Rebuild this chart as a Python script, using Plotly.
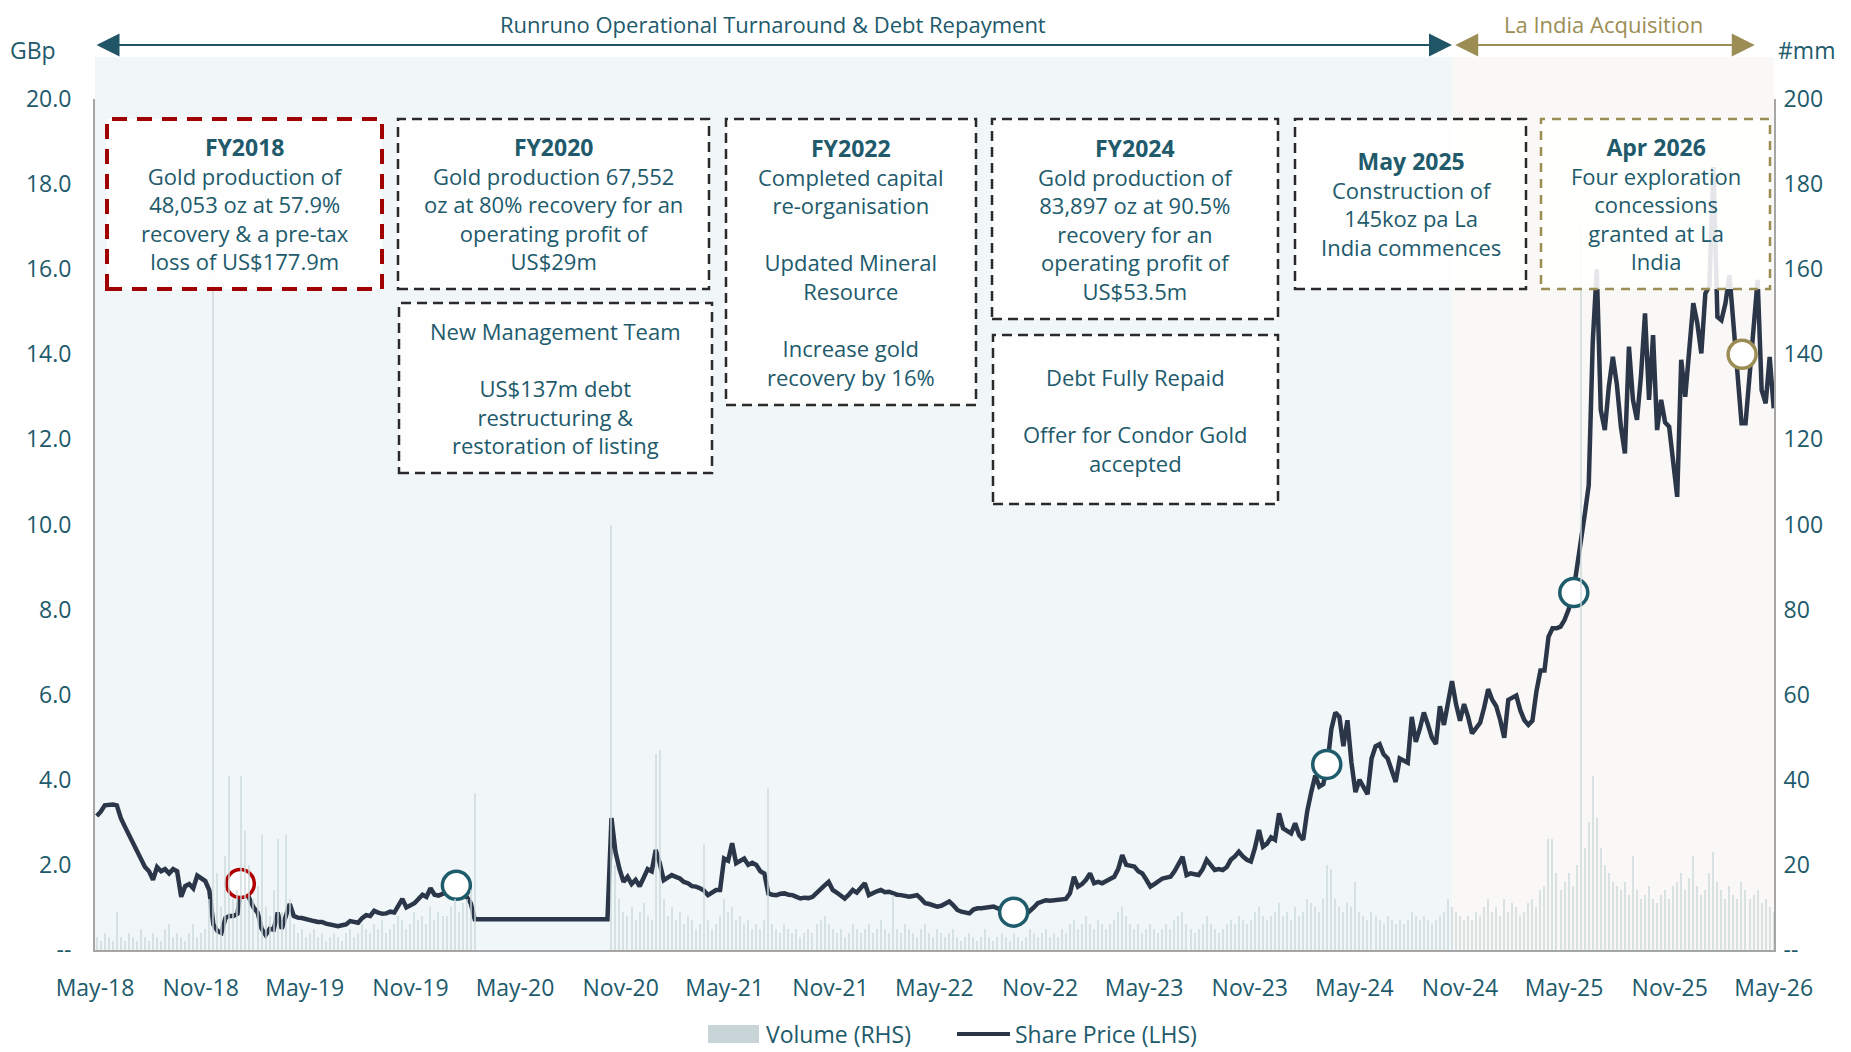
import pandas as pd
import plotly.graph_objects as go

# weekly share price (GBp), one list per calendar year
price_2018 = [3.15, 3.25, 3.4, 3.42, 3.42, 3.4, 3.1, 2.9, 2.7, 2.55,
              2.35, 2.1, 1.95, 1.85, 1.65, 1.95, 1.85, 1.9, 1.8, 1.9,
              1.85, 1.25, 1.5, 1.55, 1.45, 1.75, 1.68, 1.62, 1.4, 0.6,
              0.45, 0.4, 0.75, 0.8, 0.8]
price_2019 = [0.85, 1.55, 1.45, 1.2, 1.0, 0.88, 0.5, 0.35, 0.5, 0.48,
              0.88, 0.5, 0.8, 1.08, 0.8, 0.76, 0.75, 0.72, 0.7, 0.68,
              0.66, 0.66, 0.62, 0.6, 0.58, 0.56, 0.58, 0.6, 0.68, 0.66,
              0.64, 0.75, 0.82, 0.8, 0.92, 0.88, 0.85, 0.86, 0.9, 0.88,
              1.05, 1.2, 1.0, 1.05, 1.1, 1.2, 1.3, 1.25, 1.45, 1.3,
              1.28, 1.32]
price_2020 = [1.35, 1.4, 1.55, 1.85, 1.35, 1.25, 1.1, 0.72, 0.72, 0.72,
              0.72, 0.72, 0.72, 0.72, 0.72, 0.72, 0.72, 0.72, 0.72, 0.72,
              0.72, 0.72, 0.72, 0.72, 0.72, 0.72, 0.72, 0.72, 0.72, 0.72,
              0.72, 0.72, 0.72, 0.72, 0.72, 0.72, 0.72, 0.72, 0.72, 0.72,
              0.72, 3.1, 2.3, 1.9, 1.6, 1.72, 1.55, 1.65, 1.5, 1.7,
              1.9, 1.85]
price_2021 = [2.35, 2.04, 1.64, 1.7, 1.76, 1.72, 1.68, 1.6, 1.57, 1.5,
              1.49, 1.45, 1.4, 1.29, 1.35, 1.41, 1.41, 2.15, 2.1, 2.51,
              2.04, 2.1, 2.15, 2.0, 2.05, 2.0, 1.85, 1.8, 1.33, 1.3,
              1.29, 1.32, 1.33, 1.3, 1.29, 1.25, 1.21, 1.23, 1.22, 1.25,
              1.35, 1.45, 1.52, 1.6, 1.41, 1.35, 1.28, 1.21, 1.3, 1.41,
              1.35, 1.45]
price_2022 = [1.57, 1.29, 1.35, 1.38, 1.41, 1.36, 1.37, 1.33, 1.3, 1.29,
              1.27, 1.25, 1.27, 1.29, 1.2, 1.1, 1.08, 1.05, 1.02, 1.04,
              1.08, 1.14, 1.05, 0.94, 0.9, 0.88, 0.86, 0.95, 0.98, 0.98,
              1.0, 1.0, 1.02, 0.98, 0.92, 0.88, 0.87, 0.85, 0.82, 0.8,
              0.83, 0.9, 1.0, 1.1, 1.14, 1.17, 1.16, 1.17, 1.17, 1.18,
              1.2, 1.33]
price_2023 = [1.72, 1.49, 1.55, 1.65, 1.8, 1.57, 1.6, 1.57, 1.62, 1.68,
              1.72, 1.9, 2.23, 2.0, 1.98, 1.96, 1.85, 1.8, 1.65, 1.49,
              1.55, 1.62, 1.68, 1.7, 1.72, 1.85, 2.0, 2.19, 1.76, 1.8,
              1.78, 1.76, 1.9, 2.12, 2.0, 1.88, 1.9, 1.88, 1.95, 2.12,
              2.2, 2.31, 2.2, 2.12, 2.08, 2.4, 2.82, 2.43, 2.5, 2.65,
              2.59, 3.21]
price_2024 = [2.86, 2.8, 2.74, 2.98, 2.7, 2.59, 3.26, 3.71, 4.1, 3.84,
              3.9, 4.35, 5.19, 5.58, 5.48, 4.79, 5.4, 4.4, 3.71, 4.0,
              3.8, 3.66, 4.5, 4.79, 4.84, 4.6, 4.5, 4.2, 3.95, 4.5,
              4.45, 4.4, 5.48, 4.89, 5.2, 5.58, 5.3, 4.99, 4.84, 5.73,
              5.29, 5.8, 6.32, 5.78, 5.39, 5.78, 5.48, 5.09, 5.2, 5.34,
              5.7, 6.13, 5.88]
price_2025 = [5.73, 5.4, 4.99, 5.88, 5.93, 5.98, 5.63, 5.4, 5.29, 5.39,
              6.08, 6.57, 6.57, 7.36, 7.56, 7.56, 7.6, 7.76, 8.0, 8.3,
              8.94, 9.54, 10.23, 10.92, 14.28, 16.0, 12.69, 12.22, 13.24, 13.94,
              13.29, 12.3, 11.67, 14.18, 12.93, 12.46, 13.5, 14.96, 12.93, 14.45,
              12.22, 12.93, 12.4, 12.3, 11.36, 10.65, 13.87, 13.0, 14.1, 15.2,
              14.73, 14.02]
price_2026 = [15.43, 15.6, 18.4, 14.88, 14.8, 15.2, 15.86, 14.73, 13.47, 12.38,
              12.38, 13.5, 14.65, 15.75, 13.16, 12.85, 13.94, 12.73]

# weekly traded volume (#mm)
vol_2018 = [3, 2, 4, 3, 2, 9, 3, 2, 4, 3, 2, 5, 3, 2, 4, 3, 2, 5, 6, 3,
            4, 3, 2, 4, 6, 3, 4, 5, 12, 158, 18, 10, 22, 41, 12]
vol_2019 = [14, 41, 28, 20, 12, 15, 27, 10, 8, 14, 26, 9, 27, 12, 6, 4, 5, 3, 4, 5,
            3, 4, 2, 3, 4, 3, 2, 4, 5, 3, 4, 6, 5, 4, 6, 5, 7, 4, 5, 6,
            8, 7, 5, 6, 9, 7, 8, 6, 10, 7, 9, 8]
vol_2020 = [8, 10, 12, 9, 11, 12, 14, 37, 0, 0, 0, 0, 0, 0, 0, 0, 0, 0, 0, 0,
            0, 0, 0, 0, 0, 0, 0, 0, 0, 0, 0, 0, 0, 0, 0, 0, 0, 0, 0, 0,
            0, 100, 20, 12, 9, 8, 10, 7, 9, 11, 8, 7]
vol_2021 = [46, 47, 12, 8, 10, 7, 9, 6, 8, 7, 5, 6, 25, 7, 5, 6, 8, 12, 9, 10,
            7, 8, 6, 7, 5, 6, 5, 7, 38, 6, 5, 4, 6, 5, 4, 5, 3, 4, 5, 4,
            6, 7, 8, 6, 5, 4, 5, 3, 4, 6, 5, 4]
vol_2022 = [5, 6, 4, 5, 7, 5, 4, 13, 5, 4, 6, 5, 4, 3, 5, 6, 4, 3, 5, 4,
            3, 4, 5, 3, 2, 3, 4, 3, 2, 3, 5, 3, 2, 3, 4, 3, 2, 4, 3, 2,
            3, 5, 4, 3, 4, 5, 3, 4, 3, 5, 4, 6]
vol_2023 = [7, 5, 6, 8, 6, 5, 7, 6, 5, 6, 7, 9, 10, 8, 6, 5, 6, 4, 5, 6,
            5, 4, 5, 6, 5, 7, 8, 9, 6, 5, 4, 5, 6, 8, 6, 5, 4, 5, 6, 7,
            6, 8, 7, 6, 7, 9, 10, 8, 7, 8, 9, 11]
vol_2024 = [8, 9, 7, 10, 8, 9, 12, 11, 10, 9, 12, 20, 19, 12, 10, 9, 11, 10, 16, 9,
            8, 7, 9, 8, 7, 6, 8, 7, 6, 7, 6, 7, 9, 8, 7, 8, 7, 6, 7, 8,
            9, 12, 10, 9, 8, 7, 8, 7, 9, 8, 10, 12, 9]
vol_2025 = [10, 8, 12, 9, 11, 10, 8, 9, 11, 12, 10, 14, 15, 26, 26, 18, 14, 16, 18, 15,
            20, 170, 24, 30, 41, 31, 24, 20, 18, 16, 15, 14, 16, 13, 22, 14, 12, 13, 15, 12,
            11, 13, 14, 12, 15, 16, 18, 14, 17, 22, 15, 13]
vol_2026 = [14, 18, 23, 16, 14, 12, 15, 13, 12, 16, 14, 12, 13, 14, 11, 12, 10, 9]

price = (price_2018 + price_2019 + price_2020 + price_2021 + price_2022
         + price_2023 + price_2024 + price_2025 + price_2026)
volume = (vol_2018 + vol_2019 + vol_2020 + vol_2021 + vol_2022
          + vol_2023 + vol_2024 + vol_2025 + vol_2026)
dates = pd.date_range('2018-05-04', periods=len(price), freq='7D')

# milestone markers on the price line
event_dates = ['2019-01-09', '2020-01-20', '2022-09-16', '2024-03-14', '2025-05-18', '2026-03-07']
event_prices = [1.56, 1.52, 0.89, 4.36, 8.4, 14.0]

x_ticks = pd.date_range('2018-05-01', '2026-05-01', freq='6MS')

TEAL = '#215A6B'
NAVY = '#2B3649'
RED = '#B00000'
GOLD = '#9C8D55'
ARROW_BLUE = '#1F5566'
VOL_COLOR = '#C8D4D8'
event_colors = [RED, '#1F5C6B', '#1F5C6B', '#1F5C6B', '#1F5C6B', GOLD]

FONT = 'Open Sans'

fig = go.Figure()

fig.add_trace(go.Bar(x=dates, y=volume, yaxis='y2', name='Volume (RHS)', showlegend=False,
                     width=2 * 86400000, marker=dict(color='#CCD9DB', line=dict(width=0)),
                     opacity=0.7))
fig.add_trace(go.Scatter(x=dates, y=price, mode='lines', name='Share Price (LHS)', showlegend=False,
                         line=dict(color=NAVY, width=4.5)))
fig.add_trace(go.Scatter(x=event_dates, y=event_prices, mode='markers', showlegend=False,
                         marker=dict(size=28, color='white',
                                     line=dict(color=event_colors, width=3.5))))

# the page body has an 8px margin, so the figure starts 8px in from the top-left.
# L, R, T, B are the plot area edges in screen pixels
OFF = 8
W, H = 1851 - OFF, 1052 - OFF
L, R, T, B = 95, 1774, 99, 950


def px(x):
    return (x - L) / (R - L)


def py(y):
    return (B - y) / (B - T)


split = '2024-10-18'
shapes = [
    dict(type='rect', xref='x', yref='paper', x0='2018-05-01', x1=split, y0=0, y1=py(57),
         fillcolor='#F1F6F9', line=dict(width=0), layer='below'),
    dict(type='rect', xref='x', yref='paper', x0=split, x1='2026-05-01', y0=0, y1=py(57),
         fillcolor='#F9F8F6', line=dict(width=0), layer='below'),
]


def title(t):
    return '<b><span style="font-size:23px">' + t + '</span></b>'


boxes = [
    (107, 119, 382, 289, '#A00000', '15px,10px', 4,
     title('FY2018') + '<br>Gold production of<br>48,053 oz at 57.9%<br>recovery & a pre-tax<br>loss of US$177.9m'),
    (398, 119, 709, 289, '#2A2A2A', '10px,6px', 2.5,
     title('FY2020') + '<br>Gold production 67,552<br>oz at 80% recovery for an<br>operating profit of<br>US$29m'),
    (399, 303, 712, 473, '#2A2A2A', '10px,6px', 2.5,
     'New Management Team<br> <br>US$137m debt<br>restructuring &<br>restoration of listing'),
    (726, 119, 976, 405, '#2A2A2A', '10px,6px', 2.5,
     title('FY2022') + '<br>Completed capital<br>re-organisation<br> <br>Updated Mineral<br>Resource<br> <br>Increase gold<br>recovery by 16%'),
    (992, 119, 1278, 319, '#2A2A2A', '10px,6px', 2.5,
     title('FY2024') + '<br>Gold production of<br>83,897 oz at 90.5%<br>recovery for an<br>operating profit of<br>US$53.5m'),
    (993, 335, 1278, 504, '#2A2A2A', '10px,6px', 2.5,
     'Debt Fully Repaid<br> <br>Offer for Condor Gold<br>accepted'),
    (1295, 119, 1526, 289, '#2A2A2A', '10px,6px', 2.5,
     title('May 2025') + '<br>Construction of<br>145koz pa La<br>India commences'),
    (1541, 119, 1770, 289, GOLD, '9px,7px', 2.5,
     title('Apr 2026') + '<br>Four exploration<br>concessions<br>granted at La<br>India'),
]

annotations = []
for x0, y0, x1, y1, col, dash, w, txt in boxes:
    shapes.append(dict(type='rect', xref='paper', yref='paper',
                       x0=px(x0), x1=px(x1), y0=py(y1), y1=py(y0),
                       fillcolor='rgba(255,255,255,0.88)',
                       line=dict(color=col, width=w, dash=dash), layer='above'))
    annotations.append(dict(xref='paper', yref='paper', x=px((x0 + x1) / 2), y=py((y0 + y1) / 2),
                            text=txt, showarrow=False, align='center',
                            xanchor='center', yanchor='middle',
                            font=dict(family=FONT, size=22, color=TEAL)))

# period arrows along the top
arrow_y = py(45)
annotations += [
    dict(x=split, y=arrow_y, xref='x', yref='paper', ax='2018-05-01', ay=0,
         axref='x', ayref='pixel', text='', showarrow=True, arrowside='end+start',
         arrowhead=2, arrowsize=2.3, arrowwidth=2, arrowcolor=ARROW_BLUE),
    dict(x='2026-03-29', y=arrow_y, xref='x', yref='paper', ax='2024-10-21', ay=0,
         axref='x', ayref='pixel', text='', showarrow=True, arrowside='end+start',
         arrowhead=2, arrowsize=2.3, arrowwidth=2, arrowcolor=GOLD),
    dict(x='2021-07-24', y=py(24), xref='x', yref='paper', showarrow=False,
         xanchor='center', yanchor='middle',
         text='Runruno Operational Turnaround & Debt Repayment',
         font=dict(family=FONT, size=22, color=TEAL)),
    dict(x='2025-07-08', y=py(24), xref='x', yref='paper', showarrow=False,
         xanchor='center', yanchor='middle',
         text='La India Acquisition', font=dict(family=FONT, size=22, color=GOLD)),
    dict(x=px(33), y=py(50), xref='paper', yref='paper', showarrow=False,
         xanchor='center', yanchor='middle',
         text='GBp', font=dict(family=FONT, size=23, color=TEAL)),
    dict(x=px(1807), y=py(50), xref='paper', yref='paper', showarrow=False,
         xanchor='center', yanchor='middle',
         text='#mm', font=dict(family=FONT, size=23, color=TEAL)),
]

# legend drawn by hand so the volume swatch is a wide block like the original
leg_y = py(1034)
shapes += [
    dict(type='rect', xref='paper', yref='paper', x0=px(708), x1=px(759),
         y0=py(1043), y1=py(1025), fillcolor=VOL_COLOR, line=dict(width=0)),
    dict(type='line', xref='paper', yref='paper', x0=px(957), x1=px(1010),
         y0=leg_y, y1=leg_y, line=dict(color=NAVY, width=4)),
]
annotations += [
    dict(x=px(764), y=leg_y, xref='paper', yref='paper', showarrow=False,
         xanchor='left', yanchor='middle', text='Volume (RHS)',
         font=dict(family=FONT, size=23, color=TEAL)),
    dict(x=px(1013), y=leg_y, xref='paper', yref='paper', showarrow=False,
         xanchor='left', yanchor='middle', text='Share Price (LHS)',
         font=dict(family=FONT, size=23, color=TEAL)),
]

left_vals = [0, 2, 4, 6, 8, 10, 12, 14, 16, 18, 20]
left_text = ['--', '2.0', '4.0', '6.0', '8.0', '10.0', '12.0', '14.0', '16.0', '18.0', '20.0']
right_vals = [0, 20, 40, 60, 80, 100, 120, 140, 160, 180, 200]
right_text = ['--', '20', '40', '60', '80', '100', '120', '140', '160', '180', '200']

fig.update_layout(
    width=W, height=H,
    margin=dict(l=L - OFF, r=W + OFF - R, t=T - OFF, b=H + OFF - B, autoexpand=False),
    paper_bgcolor='white', plot_bgcolor='white',
    font=dict(family=FONT, size=23, color=TEAL),
    showlegend=False,
    bargap=0,
    xaxis=dict(type='date', range=['2018-05-01', '2026-05-01 12:00'],
               tickvals=x_ticks, ticktext=[d.strftime('%b-%y') for d in x_ticks],
               showgrid=False, zeroline=False, showline=True, linecolor='#A6A6A6', linewidth=2,
               ticks='', ticklabelstandoff=16, tickfont=dict(size=23, color=TEAL)),
    yaxis=dict(range=[0, 20], tickvals=left_vals, ticktext=left_text,
               showgrid=False, zeroline=False, showline=True, linecolor='#A6A6A6', linewidth=2,
               ticks='', ticklabelstandoff=17, tickfont=dict(size=23, color=TEAL)),
    yaxis2=dict(range=[0, 200], overlaying='y', side='right', tickvals=right_vals,
                ticktext=right_text, showgrid=False, zeroline=False, showline=True,
                linecolor='#A6A6A6', linewidth=2, ticks='', ticklabelstandoff=3,
                tickfont=dict(size=23, color=TEAL)),
    shapes=shapes,
    annotations=annotations,
)

fig.write_html('out.html')
